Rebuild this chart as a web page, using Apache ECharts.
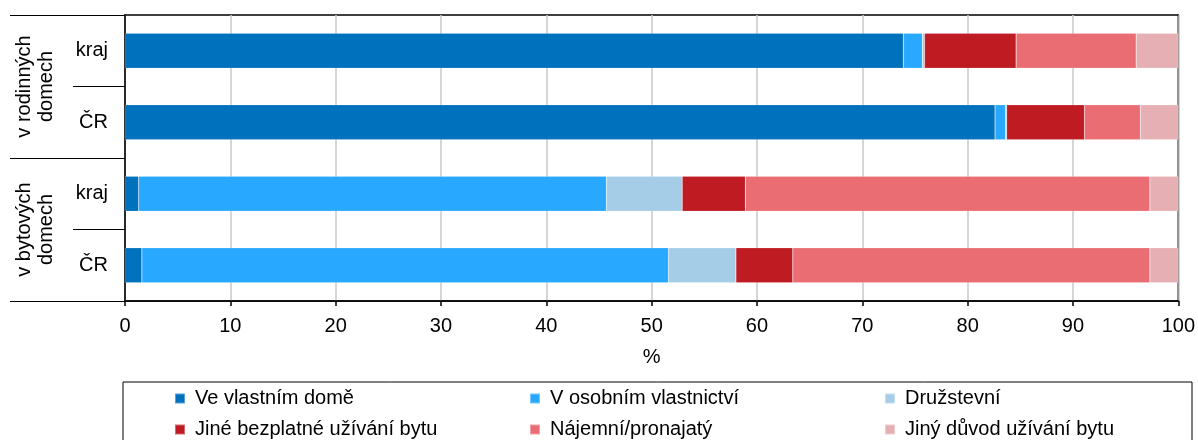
<!DOCTYPE html>
<html>
<head>
<meta charset="utf-8">
<script src="https://cdn.jsdelivr.net/npm/echarts@6/dist/echarts.min.js"></script>
<style>
html,body{margin:0;padding:0;background:#fff;}
#chart{width:1198px;height:440px;}
</style>
</head>
<body>
<div id="chart"></div>
<script>
const categories = ['kraj', 'ČR', 'kraj', 'ČR'];
const groups = ['v rodinných\ndomech', 'v bytových\ndomech'];
const seriesNames = ['Ve vlastním domě', 'V osobním vlastnictví', 'Družstevní',
  'Jiné bezplatné užívání bytu', 'Nájemní/pronajatý', 'Jiný důvod užívání bytu'];
const vlastniDum = [73.9, 82.6, 1.3, 1.6];
const osobniVlastnictvi = [1.8, 1.0, 44.4, 50.0];
const druzstevni = [0.2, 0.1, 7.2, 6.4];
const jineBezplatne = [8.7, 7.4, 6.0, 5.4];
const najemni = [11.4, 5.3, 38.4, 33.9];
const jinyDuvod = [4.0, 3.6, 2.7, 2.7];
const xTicks = { min: 0, max: 100, interval: 10 };

const colors = ['#0071BC', '#29A8FF', '#A6CDE8', '#BE1B22', '#EA6D74', '#E6AFB3'];
const values = [vlastniDum, osobniVlastnictvi, druzstevni, jineBezplatne, najemni, jinyDuvod];
const FONT = "'Liberation Sans', Arial, sans-serif";
const FS = 20;

const chart = echarts.init(document.getElementById('chart'), null, { renderer: 'canvas' });

const series = seriesNames.map((n, i) => ({
  name: n,
  type: 'bar',
  stack: 'total',
  yAxisIndex: 0,
  barWidth: 35,
  data: values[i],
  itemStyle: { color: colors[i], borderColor: 'rgba(255,255,255,0.35)', borderWidth: 0.5 },
  emphasis: { disabled: true }
}));

const legendData = seriesNames.map((n, i) => ({
  name: n,
  textStyle: { width: (i % 3 === 2) ? 230 : 326 }
}));

chart.setOption({
  animation: false,
  textStyle: { fontFamily: FONT },
  grid: {
    left: 125, right: 17, top: 15, bottom: 139,
    show: true, borderColor: '#000', borderWidth: 1.5, backgroundColor: 'transparent'
  },
  xAxis: {
    type: 'value',
    min: xTicks.min, max: xTicks.max, interval: xTicks.interval,
    position: 'bottom',
    name: '%',
    nameLocation: 'middle',
    nameGap: 46,
    nameTextStyle: { fontSize: FS, color: '#000', fontFamily: FONT },
    axisLine: { show: true, lineStyle: { color: '#000', width: 1.5 } },
    axisTick: { show: true, length: 5, lineStyle: { color: '#000', width: 1.5 } },
    axisLabel: { fontSize: FS, color: '#000', margin: 15, fontFamily: FONT },
    splitLine: { show: true, lineStyle: { color: '#C8C8C8', width: 1.5 } }
  },
  yAxis: [
    {
      type: 'category',
      inverse: true,
      data: categories,
      position: 'left',
      axisLine: { show: true, lineStyle: { color: '#000', width: 1.5 } },
      axisTick: { show: true, length: 52, alignWithLabel: false, lineStyle: { color: '#000', width: 1.2 } },
      axisLabel: { fontSize: FS, color: '#000', margin: 17, fontFamily: FONT }
    },
    {
      type: 'category',
      inverse: true,
      data: groups,
      position: 'left',
      min: 0, max: 1,
      axisLine: { show: false },
      axisTick: { show: true, length: 115, lineStyle: { color: '#000', width: 1.2 } },
      axisLabel: { fontSize: FS, color: '#000', margin: 68, rotate: 90, lineHeight: 22, align: 'center', fontFamily: FONT },
      splitLine: { show: false }
    }
  ],
  legend: {
    data: legendData,
    left: 123,
    top: 382,
    orient: 'horizontal',
    itemWidth: 10,
    itemHeight: 10,
    itemGap: 8,
    icon: 'rect',
    padding: [5, 57, 20, 51],
    borderColor: '#000',
    borderWidth: 1,
    selectedMode: false,
    textStyle: { fontSize: FS, color: '#000', fontFamily: FONT, lineHeight: 23, padding: [0, 0, 0, 5] }
  },
  series: series
});
</script>
</body>
</html>
